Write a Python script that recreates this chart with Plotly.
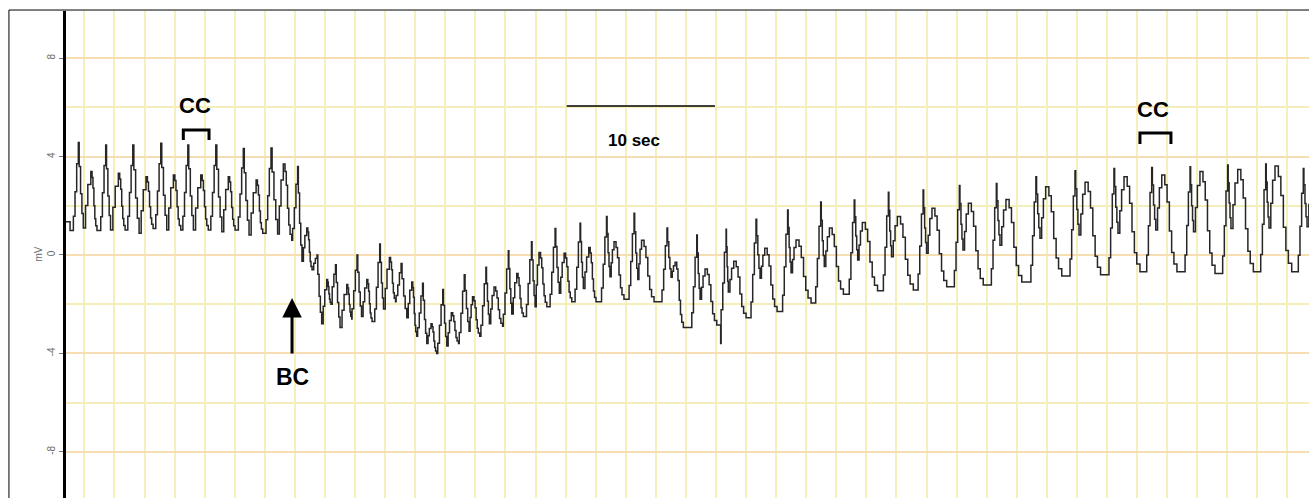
import plotly.graph_objects as go

# ---------------- data (time in s, amplitude in mV) ----------------
lead_t = [-1.22, -0.95]
lead_mv = [1.35, 1.0]

spike_t = [-0.40, 1.42, 3.22, 5.08, 6.88, 8.74, 10.57, 12.41, 14.18, 15.47, 16.70, 18.13, 19.64,
           21.06, 22.49, 23.83, 25.26, 26.70, 28.19, 29.73, 31.30, 32.96, 34.72, 36.55, 38.74,
           40.72, 42.67, 44.66, 46.76, 48.96, 51.19, 53.46, 55.77, 58.18, 60.64, 63.27, 65.87,
           68.46, 70.97, 73.52, 76.02, 78.55, 81.05]
spike_mv = [4.57, 4.47, 4.47, 4.54, 4.47, 4.47, 4.33, 4.35, 3.6, 0.0, -0.4, 0.0, 0.45, -0.35,
            -1.15, -1.4, -0.8, -0.5, 0.17, 0.54, 1.08, 1.29, 1.56, 1.7, 1.1, 0.81, 1.05, 1.45,
            1.83, 2.15, 2.24, 2.55, 2.64, 2.83, 2.91, 3.18, 3.42, 3.52, 3.56, 3.59, 3.66, 3.7, 3.52]

notch_t = [-0.07, 1.74, 3.64, 5.48, 7.25, 9.14, 10.95, 12.85, 14.47, 15.78, 17.00, 18.43, 19.89,
           21.44, 22.77, 24.10, 25.58, 26.93, 28.42, 29.97, 31.58, 33.18, 34.95, 36.80, 39.01,
           40.94, 42.82, 44.93, 46.99, 49.20, 51.42, 53.67, 56.00, 58.42, 60.88, 63.54, 66.14,
           68.73, 71.24, 73.75, 76.24, 78.77, 81.30]
notch_mv = [1.1, 1.02, 0.88, 1.02, 1.02, 0.95, 0.81, 0.85, -0.25, -2.8, -2.95, -2.5, -2.2, -2.55,
            -3.6, -3.7, -3.1, -2.8, -2.4, -2.1, -1.56, -1.36, -0.88, -1.0, -0.9, -1.8, -1.5, -0.95,
            -0.72, -0.47, -0.2, -0.07, 0.07, 0.2, 0.4, 0.68, 0.81, 0.88, 1.02, 0.95, 1.08, 1.1, 1.15]

p2_t = [0.43, 2.26, 4.10, 5.92, 7.74, 9.57, 11.42, 13.23, 14.79, 16.12, 17.45, 18.78, 20.28,
        21.77, 23.05, 24.40, 25.81, 27.24, 28.75, 30.23, 31.90, 33.54, 35.22, 37.05, 39.28,
        41.27, 43.18, 45.24, 47.32, 49.54, 51.73, 54.06, 56.36, 58.78, 61.28, 63.92, 66.54,
        69.13, 71.64, 74.18, 76.69, 79.17, 81.70]
p2_mv = [3.39, 3.32, 3.18, 3.25, 3.25, 3.18, 3.05, 3.7, 1.1, -1.0, -1.2, -1.0, -0.1, -1.1, -2.8,
         -2.35, -1.7, -1.3, -0.75, 0.1, 0.07, 0.3, 0.54, 0.6, -0.3, -0.57, -0.25, 0.27, 0.61, 1.1,
         1.32, 1.56, 1.9, 2.1, 2.26, 2.77, 2.96, 3.18, 3.25, 3.39, 3.48, 3.62, 3.4]

trough_t = [0.84, 2.71, 4.57, 6.41, 8.24, 10.02, 11.86, 13.79, 15.14, 16.40, 17.78, 19.13, 20.69,
            22.10, 23.43, 24.88, 26.29, 27.81, 29.19, 30.75, 32.41, 34.02, 35.88, 37.88, 39.83,
            42.05, 44.00, 46.06, 48.32, 50.47, 52.74, 55.12, 57.34, 59.77, 62.33, 64.99, 67.57,
            70.19, 72.65, 75.18, 77.73, 80.28, 82.80]
trough_mv = [1.0, 1.02, 1.08, 1.02, 1.02, 1.02, 0.88, 0.6, -0.6, -2.0, -2.6, -2.7, -1.9, -3.3,
             -4.0, -3.6, -3.3, -2.9, -2.5, -2.1, -1.9, -1.9, -1.8, -1.9, -2.95, -2.85, -2.55, -2.3,
             -1.95, -1.6, -1.45, -1.42, -1.29, -1.22, -1.1, -0.85, -0.8, -0.68, -0.68, -0.75,
             -0.68, -0.68, -0.7]

glitch_t = [42.31]
glitch_mv = [-3.6]

y_ticks = [-8, -4, 0, 4, 8]
y_ticklabels = ["-8", "-4", "0", "4", "8"]

# beat outline (stair-step drawing style of the recorder): offsets / level fractions
RISE = [(-0.40, 0.0), (-0.33, 0.16), (-0.22, 0.44), (-0.11, 0.76)]
SPIKE_DOWN = [(0.17, 0.72), (0.45, 0.40), (0.72, 0.17)]
NOTCH_UP = [(0.30, 0.40), (0.60, 0.77)]
DECLINE = [(0.20, 0.90), (0.35, 0.72), (0.50, 0.42), (0.65, 0.20), (0.80, 0.08)]

xs, ys = list(lead_t), list(lead_mv)
prev_t, prev_v = lead_t[-1], lead_mv[-1]
for tS, vS, tN, vN, tP, vP, tT, vT in zip(spike_t, spike_mv, notch_t, notch_mv,
                                          p2_t, p2_mv, trough_t, trough_mv):
    for off, fr in RISE:
        if tS + off > prev_t:
            xs.append(tS + off); ys.append(prev_v + fr * (vS - prev_v))
    xs.append(tS); ys.append(vS)
    for f, lv in SPIKE_DOWN:
        xs.append(tS + f * (tN - tS)); ys.append(vN + lv * (vS - vN))
    xs.append(tN); ys.append(vN)
    for f, lv in NOTCH_UP:
        xs.append(tN + f * (tP - tN)); ys.append(vN + lv * (vP - vN))
    xs.append(tP); ys.append(vP)
    for f, lv in DECLINE:
        xs.append(tP + f * (tT - tP)); ys.append(vT + lv * (vP - vT))
    xs.append(tT); ys.append(vT)
    prev_t, prev_v = tT, vT

pts = sorted(list(zip(xs, ys)) + list(zip(glitch_t, glitch_mv)), key=lambda p: p[0])
xs = [p[0] for p in pts]
ys = [p[1] for p in pts]

fig = go.Figure()
fig.add_trace(go.Scatter(x=xs, y=ys, mode="lines",
                         line=dict(color="#262626", width=1.5, shape="hv"),
                         hoverinfo="skip", showlegend=False))

FONT = "Liberation Sans, Arial, sans-serif"

fig.update_layout(
    width=1309, height=498,
    margin=dict(l=66, r=0, t=11, b=0),
    paper_bgcolor="white", plot_bgcolor="white",
    showlegend=False,
    xaxis=dict(range=[-1.22, 81.43], tick0=0, dtick=2, showgrid=True,
               gridcolor="rgb(243,240,188)", gridwidth=2, zeroline=False,
               showticklabels=False, ticks="", showline=False, fixedrange=True),
    yaxis=dict(range=[-9.88, 9.92], tickmode="array", tickvals=y_ticks, ticktext=y_ticklabels,
               showgrid=True, gridcolor="rgb(247,222,178)", gridwidth=2,
               minor=dict(dtick=2, tick0=0, showgrid=True, gridcolor="rgb(246,238,186)",
                          gridwidth=2, ticks=""),
               zeroline=False, showline=True, linecolor="black", linewidth=3,
               ticks="outside", ticklen=4, tickcolor="#777", tickwidth=1,
               tickangle=-90, tickfont=dict(family=FONT, size=10, color="#666"),
               fixedrange=True),
)

# outer frame
fig.add_shape(type="rect", xref="paper", yref="paper", x0=-0.0459, x1=1.05, y0=-0.05, y1=1.002,
              line=dict(color="black", width=1), fillcolor="rgba(0,0,0,0)", layer="above")

# CC brackets
for x0, x1, yt, yb in ((6.58, 8.29, 5.08, 4.68), (70.19, 72.25, 4.96, 4.51)):
    fig.add_shape(type="path", xref="x", yref="y",
                  path=f"M {x0},{yb} L {x0},{yt} L {x1},{yt} L {x1},{yb}",
                  line=dict(color="black", width=3))

# 10 sec scale bar
fig.add_shape(type="line", xref="x", yref="y", x0=32.07, x1=41.93, y0=6.06, y1=6.06,
              line=dict(color="black", width=1.5))

ann = [
    dict(x=7.36, y=6.06, text="<b>CC</b>", size=22),
    dict(x=71.06, y=5.90, text="<b>CC</b>", size=22),
    dict(x=36.55, y=4.64, text="<b>10 sec</b>", size=17),
    dict(x=13.81, y=-4.96, text="<b>BC</b>", size=23),
]
for a in ann:
    fig.add_annotation(x=a["x"], y=a["y"], xref="x", yref="y", text=a["text"], showarrow=False,
                       font=dict(family=FONT, size=a["size"], color="black"))

fig.add_annotation(x=13.81, y=-1.75, xref="x", yref="y", text="", showarrow=True,
                   ax=0, ay=57, arrowhead=2, arrowsize=1.3, arrowwidth=3, arrowcolor="black")

fig.add_annotation(x=-0.0225, y=0.5, xref="paper", yref="paper", text="mV", showarrow=False,
                   xanchor="center", yanchor="middle",
                   textangle=-90, font=dict(family=FONT, size=10, color="#666"))

fig.write_html("out.html", config={"displayModeBar": False})
